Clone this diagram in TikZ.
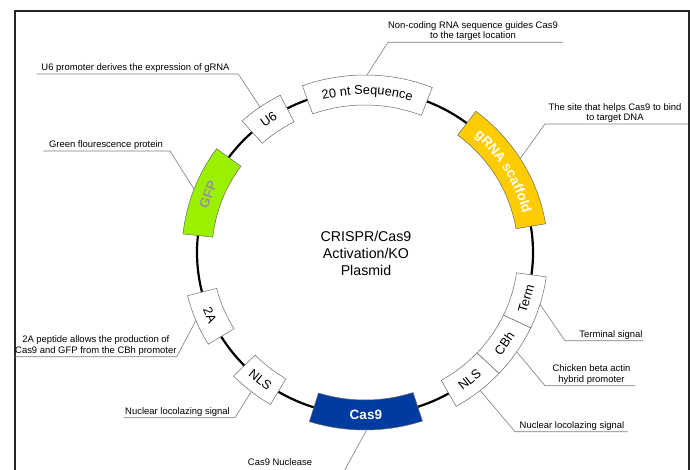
\documentclass[tikz,border=0pt]{standalone}
\usepackage{fontspec}
\setmainfont{Liberation Sans}
\usetikzlibrary{decorations.text}
\definecolor{gfpgreen}{RGB}{155,240,0}
\definecolor{scaffold}{RGB}{255,204,0}
\definecolor{casblue}{RGB}{0,60,160}
\definecolor{leadgray}{RGB}{125,125,125}
\definecolor{boxgray}{RGB}{105,105,105}
\definecolor{gfptext}{RGB}{150,150,150}
\newcommand\ringseg[3]{\draw[#3] (#1:183pt and 177.5pt) arc[start angle=#1, end angle=#2, x radius=183pt, y radius=177.5pt] -- (#2:153pt and 147.5pt) arc[start angle=#2, end angle=#1, x radius=153pt, y radius=147.5pt] -- cycle;}
\begin{document}
\begin{tikzpicture}[x=1pt,y=1pt,
  lab/.style={font=\fontsize{9.45}{10.4}\selectfont, align=center, inner sep=0pt, anchor=base},
  lead/.style={draw=leadgray, line width=0.6pt},
  ring/.style={line width=2.2pt, draw=black},
  wbox/.style={draw=boxgray, line width=0.5pt, fill=white},
  cbox/.style={draw=boxgray, line width=0.5pt, fill=#1},
  boxtxt/.style={font=\fontsize{12.8}{12.8}\selectfont, inner sep=0pt},
  boxbold/.style={font=\fontsize{13.5}{13.5}\selectfont\bfseries, inner sep=0pt},
  title/.style={font=\fontsize{14.2}{16.7}\selectfont, align=center, inner sep=0pt}]
\useasboundingbox (0,0) rectangle (690,469);
\clip (0,0) rectangle (690,469);
% frame
\draw[line width=1.2pt, draw=black!85] (15,-5) -- (15,458) -- (689,458) -- (689,-5);

\begin{scope}[shift={(365,216.5)}]
  \draw[ring] (0,0) ellipse [x radius=168pt, y radius=162.5pt];
  \ringseg{110}{68.4}{wbox}
  \ringseg{132.2}{117.6}{wbox}
  \ringseg{174}{144.2}{cbox=gfpgreen}
  \ringseg{211.1}{194.1}{wbox}
  \ringseg{238.9}{224.1}{wbox}
  \ringseg{288.3}{252.3}{cbox=casblue}
  \ringseg{317.1}{299.9}{wbox}
  \ringseg{334.9}{317.1}{wbox}
  \ringseg{352.1}{334.9}{wbox}
  \ringseg{52.7}{9.3}{cbox=scaffold}
  % curved texts
  \path[decorate, decoration={text along path, text align=center,
      text={|\fontsize{12.8}{12.8}\selectfont|20 nt Sequence}}]
      (110:163.5pt and 158pt) arc[start angle=110, end angle=68.4, x radius=163.5pt, y radius=158pt];
  \path[decorate, decoration={text along path, text align=center,
      text={|\fontsize{13.5}{13.5}\selectfont\bfseries\color{white}|gRNA scaffold}}]
      (52.7:163pt and 157.5pt) arc[start angle=52.7, end angle=9.3, x radius=163pt, y radius=157.5pt];
  % box labels
  \node[boxtxt, rotate=35] (tU6) at (125:168pt and 162.5pt) {U6};
  \node[boxbold, text=gfptext, rotate=69] (tGFP) at (159.1:168pt and 162.5pt) {GFP};
  \node[boxtxt, rotate=-67.4] (t2A) at (202.6:168pt and 162.5pt) {2A};
  \node[boxtxt, rotate=-38.5] (tNLSl) at (231.5:168pt and 162.5pt) {NLS};
  \node[boxbold, text=white] (tCas) at (270.3:168pt and 162.5pt) {Cas9};
  \node[boxtxt, rotate=38.5] (tNLSr) at (308.5:168pt and 162.5pt) {NLS};
  \node[boxtxt, rotate=56] (tCBh) at (326:168pt and 162.5pt) {CBh};
  \node[boxtxt, rotate=73.5] (tTerm) at (343.5:168pt and 162.5pt) {Term};
  % leader end points on the boxes
  \coordinate (e20) at (89.4:183pt and 177.5pt);
  \coordinate (eU6) at (125:183pt and 177.5pt);
  \coordinate (eGFP) at (159.1:183pt and 177.5pt);
  \coordinate (eg) at (32:183pt and 177.5pt);
  \coordinate (eTerm) at (-17:183pt and 177.5pt);
  \coordinate (eCBh) at (-34:183pt and 177.5pt);
  \coordinate (eNLSr) at (-51:183pt and 177.5pt);
  \coordinate (eCas) at (-89.5:183pt and 177.5pt);
  \coordinate (eNLSl) at (231.6:183pt and 177.5pt);
  \coordinate (e2A) at (202.5:183pt and 177.5pt);
\end{scope}

\node[title] (center) at (366,215.5) {CRISPR/Cas9\\Activation/KO\\Plasmid};

% labels
\node[lab] (Lnc) at (473,430.1) {Non-coding RNA sequence guides Cas9\\to the target location};
\coordinate (nc1) at (388,426.7); \coordinate (nc2) at (563,426.7);
\draw[lead] (nc2) -- (nc1) -- (e20);

\node[lab] (LU6) at (135.5,398.4) {U6 promoter derives the expression of gRNA};
\coordinate (u1) at (36.7,395); \coordinate (u2) at (238.3,395);
\draw[lead] (u1) -- (u2) -- (eU6);

\node[lab] (LGFP) at (106,321.4) {Green flourescence protein};
\coordinate (g1) at (43.3,318); \coordinate (g2) at (170,318);
\draw[lead] (g1) -- (g2) -- (eGFP);

\node[lab] (Lsite) at (615,348.4) {The site that helps Cas9 to bind\\to target DNA};
\coordinate (s1) at (545,345); \coordinate (s2) at (688,345);
\draw[lead] (s2) -- (s1) -- (eg);

\node[lab] (Lterm) at (611,131.7) {Terminal signal};
\coordinate (t1) at (565,128.3); \coordinate (t2) at (643.3,128.3);
\draw[lead] (t2) -- (t1) -- (eTerm);

\node[lab] (Lchick) at (591.5,86.7) {Chicken beta actin\\hybrid promoter};
\coordinate (c1) at (545,83.3); \coordinate (c2) at (635,83.3);
\draw[lead] (c2) -- (c1) -- (eCBh);

\node[lab] (Lnlsr) at (572,40.7) {Nuclear locolazing signal};
\coordinate (n1) at (515,37.3); \coordinate (n2) at (627.7,37.3);
\draw[lead] (n2) -- (n1) -- (eNLSr);

\node[lab] (Lcas) at (280,3.3) {Cas9 Nuclease};
\coordinate (casfree) at (343.7,-3);
\draw[lead] (eCas) -- (casfree);

\node[lab] (Lnlsl) at (177.5,54.7) {Nuclear locolazing signal};
\coordinate (m1) at (123.3,51.3); \coordinate (m2) at (235,51.3);
\draw[lead] (m1) -- (m2) -- (eNLSl);

\node[lab] (L2A) at (95.8,115.7) {2A peptide allows the production of\\Cas9 and GFP from the CBh promoter};
\coordinate (a1) at (15,112.3); \coordinate (a2) at (176.7,112.3);
\draw[lead] (a1) -- (a2) -- (e2A);
\end{tikzpicture}
\end{document}
